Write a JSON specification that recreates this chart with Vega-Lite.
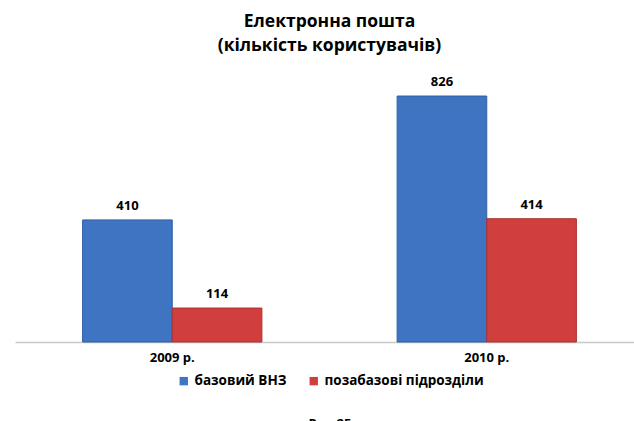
{
  "$schema": "https://vega.github.io/schema/vega-lite/v6.json",
  "width": 619,
  "height": 268,
  "autosize": {"type": "none"},
  "padding": {"left": 15, "top": 74, "right": 0, "bottom": 79},
  "background": "white",
  "config": {
    "font": "Open Sans",
    "view": {"stroke": null},
    "legend": {"labelFontWeight": "bold", "labelFontSize": 13, "labelColor": "#000000"}
  },
  "title": {
    "text": ["Електронна пошта", "(кількість користувачів)"],
    "fontSize": 17.5,
    "fontWeight": "bold",
    "color": "#000000",
    "anchor": "middle",
    "frame": "bounds",
    "offset": 20,
    "lineHeight": 24
  },
  "data": {
    "values": [
      {"year": "2009 р.", "group": "базовий ВНЗ", "users": 410},
      {"year": "2009 р.", "group": "позабазові підрозділи", "users": 114},
      {"year": "2010 р.", "group": "базовий ВНЗ", "users": 826},
      {"year": "2010 р.", "group": "позабазові підрозділи", "users": 414}
    ]
  },
  "encoding": {
    "x": {
      "field": "year",
      "type": "nominal",
      "scale": {"paddingInner": 0.43, "paddingOuter": 0.215, "range": [0, 629]},
      "axis": {
        "title": "Рис.25",
        "titleFontSize": 13,
        "titleFontWeight": "bold",
        "titleColor": "#000000",
        "titlePadding": 53,
        "labelAngle": 0,
        "labelFontSize": 13,
        "labelFontWeight": "bold",
        "labelColor": "#000000",
        "labelPadding": 9,
        "ticks": false,
        "domainColor": "#c8c8c8",
        "domainWidth": 1.5
      }
    },
    "xOffset": {"field": "group", "type": "nominal", "scale": {"paddingInner": 0, "paddingOuter": 0}},
    "y": {
      "field": "users",
      "type": "quantitative",
      "scale": {"domain": [0, 900], "nice": false},
      "axis": null
    }
  },
  "layer": [
    {
      "mark": {"type": "bar", "strokeWidth": 1},
      "encoding": {
        "color": {
          "field": "group",
          "type": "nominal",
          "scale": {"domain": ["базовий ВНЗ", "позабазові підрозділи"], "range": ["#3f74c2", "#d03f3d"]},
          "legend": {
            "title": null,
            "orient": "none",
            "direction": "horizontal",
            "legendX": 162,
            "legendY": 300,
            "symbolType": "square",
            "symbolSize": 70,
            "symbolStrokeWidth": 0,
            "labelFontSize": 13.5,
            "labelFontWeight": "bold",
            "labelColor": "#000000",
            "columnPadding": 20,
            "labelOffset": 4
          }
        },
        "stroke": {
          "field": "group",
          "type": "nominal",
          "scale": {"domain": ["базовий ВНЗ", "позабазові підрозділи"], "range": ["#2f5fa5", "#a83230"]},
          "legend": null
        }
      }
    },
    {
      "mark": {"type": "text", "baseline": "bottom", "dy": -7, "fontSize": 13, "fontWeight": "bold", "color": "#000000"},
      "encoding": {
        "text": {"field": "users", "type": "quantitative"}
      }
    }
  ]
}
